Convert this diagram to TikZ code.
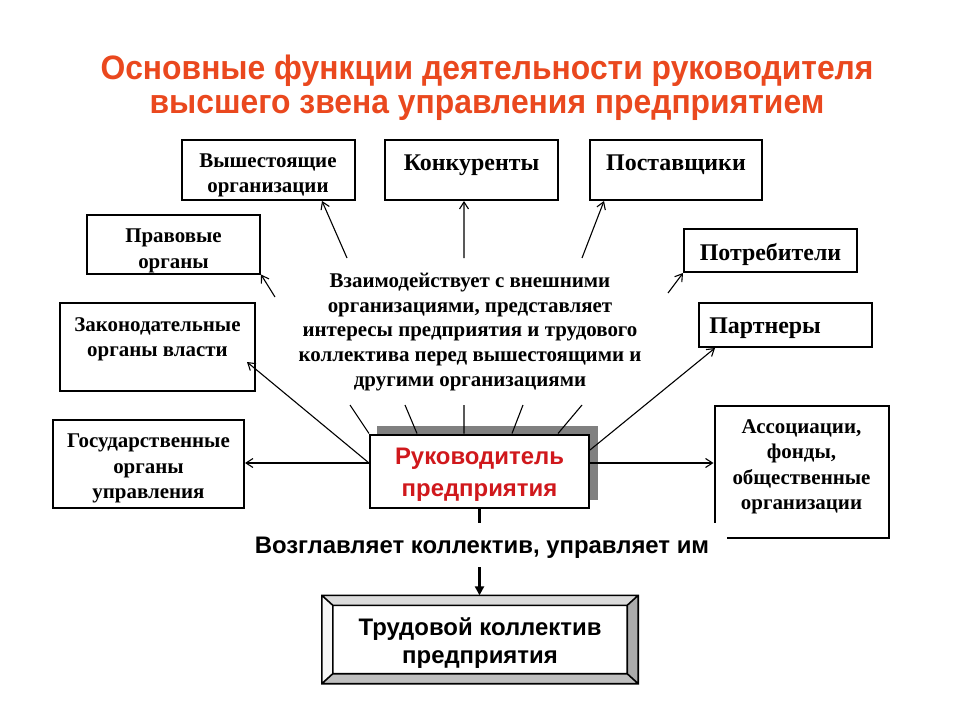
\documentclass[tikz,border=0pt]{standalone}
\usepackage{fontspec}
\setmainfont{Liberation Serif}
\newfontfamily\arialf{Liberation Sans}
\newfontfamily\titlef[FakeStretch=0.94]{Liberation Sans}
\usetikzlibrary{arrows.meta,calc}
\definecolor{titlered}{RGB}{234,72,30}
\definecolor{bossred}{RGB}{208,24,28}
\definecolor{shadowgray}{RGB}{128,128,128}
\begin{document}
\begin{tikzpicture}[x=1bp,y=-1bp,
  bxo/.style={draw, line width=2bp, fill=white, inner sep=0pt},
  txt/.style={align=center, font=\bfseries\fontsize{21}{25.5}\selectfont},
  big/.style={align=center, font=\bfseries\fontsize{24}{28}\selectfont},
  arr/.style={-{Straight Barb[length=7pt,width=9pt]}, line width=1.1pt},
  ln/.style={line width=1.1pt}]
\useasboundingbox[fill=white] (0,0) rectangle (960,720);

% title
\node[font=\titlef\bfseries\fontsize{34}{34}\selectfont, text=titlered, align=center] (title) at (487,88)
  {Основные функции деятельности руководителя\\высшего звена управления предприятием};

% outer boxes
\node[bxo, minimum width=173bp, minimum height=60bp, label={[txt,yshift=-5.5pt]center:Вышестоящие\\организации}] (vys) at (268,170) {};
\node[bxo, minimum width=173bp, minimum height=60bp, label={[big,yshift=5pt]center:Конкуренты}] (konk) at (471.5,170) {};
\node[bxo, minimum width=172bp, minimum height=60bp, label={[big,yshift=5pt]center:Поставщики}] (post) at (676,170) {};
\node[bxo, minimum width=173bp, minimum height=59bp, label={[txt,yshift=-7pt]center:Правовые\\органы}] (prav) at (173.5,244) {};
\node[bxo, minimum width=173bp, minimum height=43bp, label={[big,yshift=-4pt]center:Потребители}] (potr) at (770.5,250.5) {};
\node[bxo, minimum width=195bp, minimum height=88bp, label={[txt,yshift=7pt]center:Законодательные\\органы власти}] (zak) at (157.5,346.5) {};
\node[bxo, minimum width=173bp, minimum height=44bp, label={[big,yshift=-3pt,xshift=-20.5pt]center:Партнеры}] (part) at (785.5,325) {};
\node[bxo, minimum width=191bp, minimum height=88bp, label={[txt,yshift=-4.5pt]center:Государственные\\органы\\управления}] (gos) at (148.5,464) {};
\node[bxo, minimum width=174bp, minimum height=132bp, label={[txt,yshift=5pt]center:Ассоциации,\\фонды,\\общественные\\организации}] (assoc) at (801.5,472) {};

% central text
\node[txt, font=\bfseries\fontsize{21}{25}\selectfont] (inter) at (470,332) {Взаимодействует с внешними\\организациями, представляет\\интересы предприятия и трудового\\коллектива перед вышестоящими и\\другими организациями};

% manager box with shadow
\fill[shadowgray] (377,426) rectangle (598,500);
\node[bxo, minimum width=219bp, minimum height=73bp,
  label={[align=center, text=bossred, yshift=-4pt, font=\arialf\bfseries\fontsize{24}{32}\selectfont]center:Руководитель\\предприятия}] (ruk) at (479.5,471) {};

% upper arrows (from under the central text)
\coordinate (sv) at (347,258);
\coordinate (sk) at (464,258);
\coordinate (sp) at (582,258);
\coordinate (sr) at (275,297);
\coordinate (so) at (668,293);
\draw[arr] (sv) -- ([xshift=54bp]vys.south);
\draw[arr] (sk) -- ([xshift=-7.5bp]konk.south);
\draw[arr] (sp) -- ([xshift=-72bp]post.south);
\draw[arr] (sr) -- (prav.south east);
\draw[arr] (so) -- (potr.south west);

% short segments from manager box top
\coordinate (ea) at (350,405);
\coordinate (eb) at (405,405);
\coordinate (ec) at (464,405);
\coordinate (ed) at (523,405);
\coordinate (ee) at (582,405);
\draw[ln] (ruk.north west) -- (ea);
\draw[ln] ([xshift=-62.5bp]ruk.north) -- (eb);
\draw[ln] ([xshift=-15.5bp]ruk.north) -- (ec);
\draw[ln] ([xshift=32.5bp]ruk.north) -- (ed);
\draw[ln] ([xshift=78.5bp]ruk.north) -- (ee);

% side arrows
\coordinate (rl) at ([yshift=8bp]ruk.west);
\coordinate (rr) at ([yshift=8bp]ruk.east);
\draw[arr] (rl) -- (rl -| gos.east);
\draw[arr] (rr) -- (rr -| assoc.west);
\draw[arr] (rl) -- ([xshift=-9bp,yshift=-15.5bp]zak.east);
\draw[arr] ([yshift=21bp]ruk.east) -- ([xshift=17bp]part.south west);

% label below the manager
\node[fill=white, minimum width=490bp, minimum height=44bp, inner sep=0pt, text height=22pt, text depth=4pt,
  font=\arialf\bfseries\fontsize{24}{28}\selectfont] (lab) at (482,545) {Возглавляет коллектив, управляет им};

% bottom bevelled box
\node[minimum width=316bp, minimum height=88bp, inner sep=0pt] (trud) at (480,639.5) {};
\coordinate (o1) at (trud.north west);
\coordinate (o2) at (trud.north east);
\coordinate (o3) at (trud.south east);
\coordinate (o4) at (trud.south west);
\coordinate (i1) at ([shift={(11bp,-10bp)}]trud.north west);
\coordinate (i2) at ([shift={(-11bp,-10bp)}]trud.north east);
\coordinate (i3) at ([shift={(-11bp,10bp)}]trud.south east);
\coordinate (i4) at ([shift={(11bp,10bp)}]trud.south west);
\fill[gray!28] (o1) -- (o2) -- (i2) -- (i1) -- cycle;
\fill[gray!65] (o2) -- (o3) -- (i3) -- (i2) -- cycle;
\fill[gray!50] (o3) -- (o4) -- (i4) -- (i3) -- cycle;
\fill[gray!6] (o4) -- (o1) -- (i1) -- (i4) -- cycle;
\draw[line width=1.6bp] (o1) rectangle (o3) (i1) rectangle (i3)
  (o1) -- (i1) (o2) -- (i2) (o3) -- (i3) (o4) -- (i4);
\node[align=center, font=\arialf\bfseries\fontsize{24}{28}\selectfont] (trudtxt) at ([yshift=-4bp]trud.center) {Трудовой коллектив\\предприятия};

% vertical connectors
\draw[line width=3bp] (ruk.south) -- (ruk.south |- lab.north);
\draw[line width=2.5bp, -{Triangle[length=9pt,width=9pt]}] (ruk.south |- lab.south) -- (ruk.south |- trud.north);
\end{tikzpicture}
\end{document}
